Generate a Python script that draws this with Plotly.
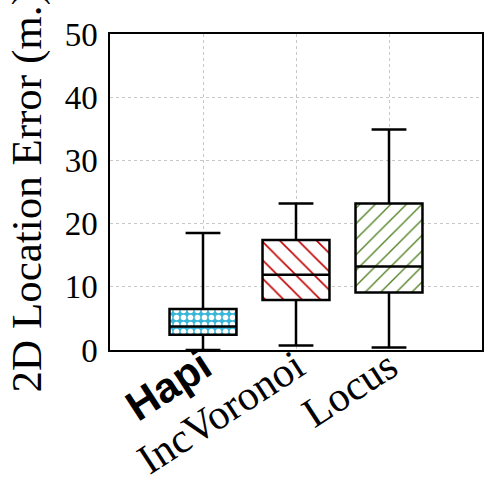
import plotly.graph_objects as go

categories = ["Hapi", "IncVoronoi", "Locus"]
tick_labels = ['<span style="font-family:Liberation Sans"><b>Hapi</b></span>', "IncVoronoi", "Locus"]
lower = [0.0, 0.7, 0.4]
q1 = [2.4, 7.9, 9.1]
median = [3.7, 11.9, 13.2]
q3 = [6.5, 17.4, 23.2]
upper = [18.5, 23.2, 34.9]
y_title = "2D Location Error (m.)"

pos = list(range(len(categories)))
fill_bg = ["#38b6d8", "white", "white"]
fill_fg = ["white", "#c00000", "#4a7d1c"]
shapes = [".", "\\", "/"]
sizes = [7, 13, 11]
solid = [0.5, 0.12, 0.12]

fig = go.Figure()
for i in pos:
    fig.add_trace(go.Bar(
        x=[pos[i]], y=[q3[i] - q1[i]], base=[q1[i]], width=0.72,
        marker=dict(color=fill_bg[i], line=dict(width=0),
                    pattern=dict(shape=shapes[i], fgcolor=fill_fg[i], bgcolor=fill_bg[i],
                                 size=sizes[i], solidity=solid[i], fillmode="replace")),
        showlegend=False, hoverinfo="skip",
    ))
fig.add_trace(go.Box(
    x=pos, q1=q1, median=median, q3=q3, lowerfence=lower, upperfence=upper,
    width=0.72, whiskerwidth=0.52, fillcolor="rgba(0,0,0,0)",
    line=dict(color="black", width=2.5), showlegend=False, boxpoints=False,
))
fig.add_annotation(
    text=y_title, textangle=-90, xref="paper", yref="paper",
    x=-0.222, y=0.5, xanchor="center", yanchor="middle", showarrow=False,
    font=dict(size=43, family="Liberation Serif", color="black"),
)
fig.update_layout(
    width=490, height=482,
    margin=dict(l=110, r=8, t=34, b=132),
    plot_bgcolor="white", paper_bgcolor="white",
    font=dict(family="Liberation Serif", color="black"),
    barmode="overlay", boxmode="overlay",
)
fig.update_xaxes(
    range=[-1, 3], tickvals=pos, ticktext=tick_labels, tickangle=-33,
    tickfont=dict(size=42, family="Liberation Serif"), automargin=False,
    ticklabelstandoff=-26,
    showgrid=True, gridcolor="#c8c8c8", griddash="dot", gridwidth=1,
    showline=True, linecolor="black", linewidth=1.5, mirror=True,
    ticks="", zeroline=False,
)
fig.update_yaxes(
    range=[0, 50], dtick=10, tickfont=dict(size=33), automargin=False,
    ticklabelstandoff=4,
    showgrid=True, gridcolor="#c8c8c8", griddash="dot", gridwidth=1,
    showline=True, linecolor="black", linewidth=1.5, mirror=True,
    ticks="", zeroline=False,
)
fig.write_html("out.html")
